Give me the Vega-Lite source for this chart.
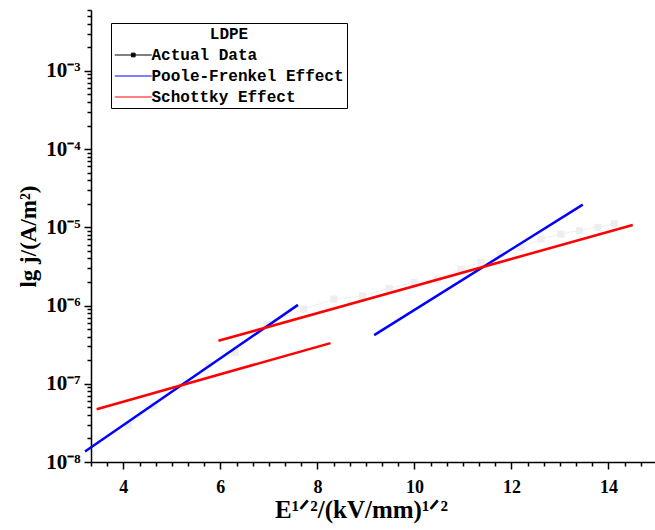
{
  "$schema": "https://vega.github.io/schema/vega-lite/v6.json",
  "width": 566,
  "height": 452,
  "autosize": {"type": "none"},
  "padding": {"left": 91, "top": 10, "right": 0, "bottom": 68},
  "background": "white",
  "data": {
    "values": [
      {"series": "Actual Data", "seg": "a", "x": 4.10, "y": 2.89e-8},
      {"series": "Actual Data", "seg": "a", "x": 4.62, "y": 5.21e-8},
      {"series": "Actual Data", "seg": "a", "x": 5.21, "y": 9.4e-8},
      {"series": "Actual Data", "seg": "a", "x": 5.76, "y": 1.78e-7},
      {"series": "Actual Data", "seg": "a", "x": 6.31, "y": 2.52e-7},
      {"series": "Actual Data", "seg": "a", "x": 6.96, "y": 5.8e-7},
      {"series": "Actual Data", "seg": "a", "x": 7.72, "y": 9.0e-7},
      {"series": "Actual Data", "seg": "a", "x": 8.34, "y": 1.21e-6},
      {"series": "Actual Data", "seg": "a", "x": 8.93, "y": 1.33e-6},
      {"series": "Actual Data", "seg": "a", "x": 9.48, "y": 1.66e-6},
      {"series": "Actual Data", "seg": "a", "x": 9.99, "y": 1.98e-6},
      {"series": "Actual Data", "seg": "a", "x": 10.48, "y": 2.18e-6},
      {"series": "Actual Data", "seg": "a", "x": 10.96, "y": 2.93e-6},
      {"series": "Actual Data", "seg": "a", "x": 11.37, "y": 3.57e-6},
      {"series": "Actual Data", "seg": "a", "x": 11.78, "y": 4.6e-6},
      {"series": "Actual Data", "seg": "a", "x": 12.20, "y": 5.56e-6},
      {"series": "Actual Data", "seg": "a", "x": 12.61, "y": 7.1e-6},
      {"series": "Actual Data", "seg": "a", "x": 13.02, "y": 8.2e-6},
      {"series": "Actual Data", "seg": "a", "x": 13.40, "y": 9.1e-6},
      {"series": "Actual Data", "seg": "a", "x": 13.78, "y": 1.0e-5},
      {"series": "Actual Data", "seg": "a", "x": 14.12, "y": 1.11e-5},
      {"series": "Poole-Frenkel Effect", "seg": "p1", "x": 3.21, "y": 1.36e-8},
      {"series": "Poole-Frenkel Effect", "seg": "p1", "x": 7.60, "y": 1.02e-6},
      {"series": "Poole-Frenkel Effect", "seg": "p2", "x": 9.17, "y": 4.19e-7},
      {"series": "Poole-Frenkel Effect", "seg": "p2", "x": 13.47, "y": 1.95e-5},
      {"series": "Schottky Effect", "seg": "s1", "x": 3.45, "y": 4.73e-8},
      {"series": "Schottky Effect", "seg": "s1", "x": 8.27, "y": 3.31e-7},
      {"series": "Schottky Effect", "seg": "s2", "x": 5.96, "y": 3.54e-7},
      {"series": "Schottky Effect", "seg": "s2", "x": 14.5, "y": 1.07e-5}
    ]
  },
  "encoding": {
    "x": {
      "field": "x", "type": "quantitative",
      "scale": {"domain": [3.3333, 15], "nice": false, "zero": false},
      "axis": {
        "title": "E¹ᐟ²/(kV/mm)¹ᐟ²",
        "titleFontSize": 25,
        "titlePadding": 1,
        "titleX": 270,
        "values": [3.3333, 3.6667, 4, 4.3333, 4.6667, 5, 5.3333, 5.6667, 6, 6.3333, 6.6667, 7, 7.3333, 7.6667, 8, 8.3333, 8.6667, 9, 9.3333, 9.6667, 10, 10.3333, 10.6667, 11, 11.3333, 11.6667, 12, 12.3333, 12.6667, 13, 13.3333, 13.6667, 14, 14.3333, 14.6667, 15],
        "labelExpr": "abs(datum.value - round(datum.value)) < 0.01 && round(datum.value) % 2 == 0 ? format(round(datum.value), 'd') : ''",
        "labelOverlap": false,
        "labelPadding": 9,
        "tickSize": {"condition": {"test": "abs(datum.value - round(datum.value)) < 0.01 && round(datum.value) % 2 == 0", "value": 7}, "value": 4}
      }
    },
    "y": {
      "field": "y", "type": "quantitative",
      "scale": {"type": "log", "domain": [1e-8, 6e-3], "nice": false},
      "axis": {
        "title": "lg j/(A/m²)",
        "titleFontSize": 23,
        "titlePadding": 5,
        "labelFontSize": 21,
        "values": [1e-8, 2e-8, 3e-8, 4e-8, 5e-8, 6e-8, 7e-8, 8e-8, 9e-8, 1e-7, 2e-7, 3e-7, 4e-7, 5e-7, 6e-7, 7e-7, 8e-7, 9e-7, 1e-6, 2e-6, 3e-6, 4e-6, 5e-6, 6e-6, 7e-6, 8e-6, 9e-6, 1e-5, 2e-5, 3e-5, 4e-5, 5e-5, 6e-5, 7e-5, 8e-5, 9e-5, 1e-4, 2e-4, 3e-4, 4e-4, 5e-4, 6e-4, 7e-4, 8e-4, 9e-4, 1e-3, 2e-3, 3e-3, 4e-3, 5e-3, 6e-3],
        "labelExpr": "abs(log(datum.value)/LN10 - round(log(datum.value)/LN10)) < 0.001 ? '10⁻' + ['⁰','¹','²','³','⁴','⁵','⁶','⁷','⁸','⁹'][-round(log(datum.value)/LN10)] : ''",
        "labelOverlap": false,
        "labelPadding": 4,
        "tickSize": {"condition": {"test": "abs(log(datum.value)/LN10 - round(log(datum.value)/LN10)) < 0.001", "value": 7}, "value": 4}
      }
    }
  },
  "layer": [
    {
      "transform": [{"filter": "datum.series == 'Actual Data'"}],
      "mark": {"type": "line", "strokeWidth": 1, "color": "#f0f0f0"},
      "encoding": {
        "detail": {"field": "seg"}
      }
    },
    {
      "transform": [{"filter": "datum.series == 'Actual Data'"}],
      "mark": {"type": "point", "shape": "square", "filled": true, "size": 50, "color": "#eeeeee", "opacity": 1}
    },
    {
      "transform": [{"filter": "datum.series != 'Actual Data'"}],
      "mark": {"type": "line", "strokeWidth": 2.5},
      "encoding": {
        "color": {
          "field": "series", "type": "nominal",
          "scale": {"domain": ["Actual Data", "Poole-Frenkel Effect", "Schottky Effect"], "range": ["#000000", "#0000ff", "#ff0000"]},
          "legend": {
            "orient": "none",
            "legendX": 20,
            "legendY": 13,
            "title": "LDPE",
            "titleAnchor": "middle",
            "titleFont": "Liberation Mono",
            "titleFontSize": 16,
            "titleFontWeight": "bold",
            "titleColor": "black",
            "titlePadding": 3,
            "strokeColor": "black",
            "fillColor": "white",
            "padding": 3,
            "symbolType": "M-1,0H3",
            "symbolSize": 342,
            "symbolStrokeWidth": 1,
            "labelOffset": 17.5,
            "labelLimit": 400,
            "labelFont": "Liberation Mono",
            "labelFontSize": 16,
            "labelFontWeight": "bold",
            "labelColor": "black",
            "rowPadding": 3,
            "encode": {
              "symbols": {
                "update": {
                  "shape": {"signal": "datum.value == 'Actual Data' ? 'M-1,0H3M0.8,-0.2H1.2V0.2H0.8Z' : 'M-1,0H3'"},
                  "fill": {"value": "black"},
                  "opacity": {"value": 1}
                }
              }
            }
          }
        },
        "detail": {"field": "seg"}
      }
    }
  ],
  "config": {
    "view": {"stroke": null},
    "axis": {
      "grid": false,
      "domainColor": "black",
      "domainWidth": 1.5,
      "tickColor": "black",
      "tickWidth": 1.5,
      "labelColor": "black",
      "labelFont": "Liberation Serif",
      "labelFontWeight": "bold",
      "labelFontSize": 18,
      "titleColor": "black",
      "titleFont": "Liberation Serif",
      "titleFontWeight": "bold"
    }
  }
}
